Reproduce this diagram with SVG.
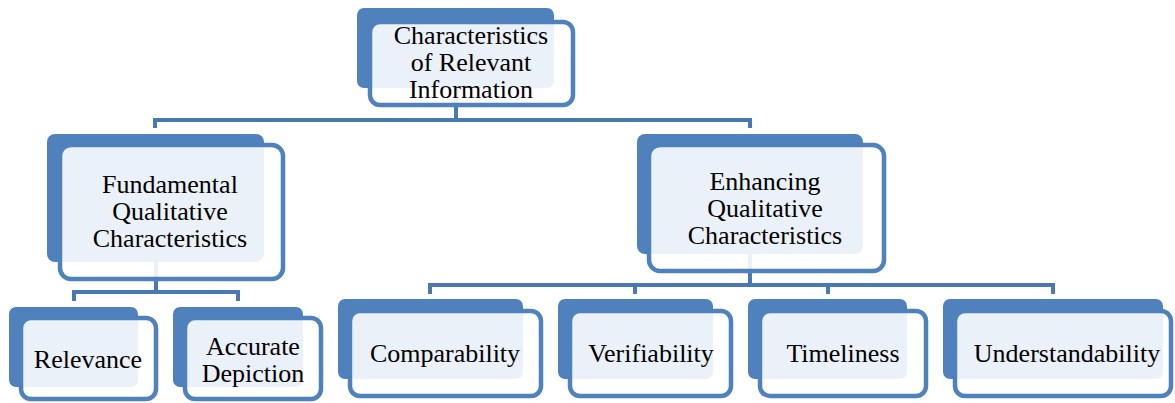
<svg xmlns="http://www.w3.org/2000/svg" width="1175" height="403" viewBox="0 0 1175 403">
<style>
.back{fill:#4f81bd}
.front{fill:#ffffff;fill-opacity:0.89;stroke:#4f81bd;stroke-width:4.5}
.conn{fill:none;stroke:#4a78b3;stroke-width:4;stroke-linejoin:miter}
text{font-family:"Liberation Serif","Times New Roman",serif;font-size:26px;fill:#000;text-anchor:middle}
</style>
<rect width="1175" height="403" fill="#ffffff"/>
<g id="connectors">
<path class="conn" d="M456 88V120"/>
<path class="conn" d="M155 128V120H750V128"/>
<path class="conn" d="M156 262V292"/>
<path class="conn" d="M74 301V292H238V301"/>
<path class="conn" d="M750 254V285"/>
<path class="conn" d="M430 294V285H1053V294"/>
<path class="conn" d="M635 285V294"/>
<path class="conn" d="M828 285V294"/>
</g>
<g id="node-root">
<rect class="back" x="357" y="8" width="197" height="80" rx="7"/>
<rect class="front" x="370" y="22" width="203" height="83" rx="10"/>
<text x="471" y="44">Characteristics</text>
<text x="471" y="71">of Relevant</text>
<text x="471" y="98">Information</text>
</g>
<g id="node-fundamental">
<rect class="back" x="47" y="134" width="217" height="128" rx="8"/>
<rect class="front" x="60" y="145" width="223" height="134" rx="11"/>
<text x="170" y="193">Fundamental</text>
<text x="170" y="220">Qualitative</text>
<text x="170" y="247">Characteristics</text>
</g>
<g id="node-enhancing">
<rect class="back" x="637" y="134" width="226" height="120" rx="8"/>
<rect class="front" x="649" y="145" width="235" height="126" rx="11"/>
<text x="765" y="190">Enhancing</text>
<text x="765" y="217">Qualitative</text>
<text x="765" y="244">Characteristics</text>
</g>
<g id="node-relevance">
<rect class="back" x="9" y="307" width="129" height="80" rx="7"/>
<rect class="front" x="21" y="318" width="135" height="81" rx="10"/>
<text x="88" y="368">Relevance</text>
</g>
<g id="node-accurate">
<rect class="back" x="173" y="307" width="130" height="80" rx="7"/>
<rect class="front" x="185" y="318" width="136" height="81" rx="10"/>
<text x="253" y="355">Accurate</text>
<text x="253" y="382">Depiction</text>
</g>
<g id="node-comparability">
<rect class="back" x="338" y="299" width="185" height="80" rx="7"/>
<rect class="front" x="350" y="311" width="191" height="85" rx="10"/>
<text x="445" y="362">Comparability</text>
</g>
<g id="node-verifiability">
<rect class="back" x="558" y="299" width="155" height="80" rx="7"/>
<rect class="front" x="570" y="311" width="161" height="85" rx="10"/>
<text x="651" y="362">Verifiability</text>
</g>
<g id="node-timeliness">
<rect class="back" x="748" y="299" width="159" height="80" rx="7"/>
<rect class="front" x="760" y="311" width="166" height="85" rx="10"/>
<text x="843" y="362">Timeliness</text>
</g>
<g id="node-understandability">
<rect class="back" x="943" y="299" width="220" height="80" rx="7"/>
<rect class="front" x="955" y="311" width="216" height="85" rx="10"/>
<text x="1067" y="362">Understandability</text>
</g>
</svg>
